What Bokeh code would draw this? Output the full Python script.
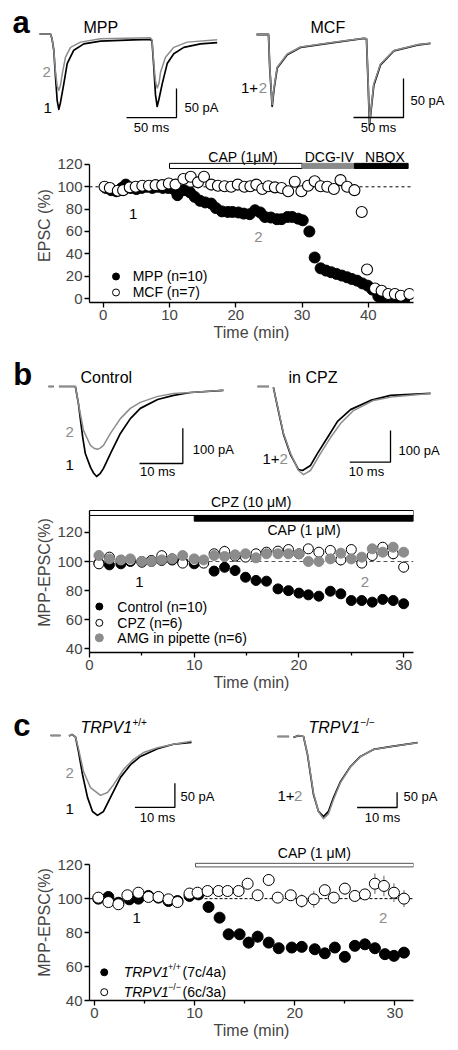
import numpy as np
from bokeh.plotting import figure
from bokeh.layouts import column, row
from bokeh.models import Range1d, Span, FixedTicker
from bokeh.core.properties import value
from bokeh.embed import file_html
from bokeh.resources import INLINE

FONT = "Liberation Sans"
BLACK = "#000000"
GRAY = "#8c8c8c"
NAN = np.nan

# ---------------- panel a : example traces (ms, pA) ----------------
A_MPP1_T = [0, 11, 12.5, 14.3, 16, 17.7, 19.3, 21, 24.3, 27.7, 34.3, 44.3, 61, 94, 111,
            112.5, 114.3, 116, 117.7, 119.5, 122.7, 127.7, 134.3, 144.3, 161, 177.7]
A_MPP1_I = [0, 0, -8, -28, -74, -115, -130, -118, -86, -51, -28, -17, -12.4, -10, -9.5,
            -12, -57, -105, -125, -112, -86, -51, -34, -23, -17, -15]
A_MPP2_T = [0, 11, 12.5, 14.3, 16, 17.7, 19.3, 21, 22.7, 26, 31, 41, 61, 111,
            112.5, 114.3, 116, 117.7, 119.5, 121, 126, 134.3, 147.7, 177.7]
A_MPP2_I = [0, 0, -8, -28, -65, -90, -97, -88, -69, -40, -23, -14, -8.3, -6.6,
            -10, -50, -82, -93, -85, -66, -40, -23, -14, -10]
A_MCFTR_T = [0, 12, 13.3, 15.7, 17.5, 20.7, 30.7, 44, 77, 107.3, 110, 111.7, 113, 115,
             117.3, 124, 137.3, 160.7, 174]
A_MCF1_I = [0, 0, -44, -92, -70, -43, -26, -16.5, -10.5, -5, -5.5, -65, -116, -92,
            -65, -39, -21, -13.5, -11.5]
A_MCF2_I = [0, 0, -42, -90, -68, -42, -25, -16, -10, -4.7, -5, -63, -114, -90,
            -63, -38, -20.5, -13.2, -11.1]

# ---------------- panel a : time course (min, %) ----------------
A_MPP_T = [0.4, 1.2, 2.0, 2.8, 3.4, 4.2, 5.0, 5.8, 6.6, 7.4, 8.2, 9.0, 9.8, 10.6, 11.2,
           12.2, 13.1, 13.8, 14.6, 15.4, 16.3, 17.0, 17.9, 18.8, 19.5, 20.4, 21.2, 22.1,
           22.9, 23.7, 24.4, 25.3, 26.2, 26.9, 27.8, 28.5, 29.4, 30.1, 31.1, 31.9, 32.8,
           33.6, 34.4, 35.2, 36.0, 36.8, 37.5, 38.3, 39.1, 39.9, 40.6, 41.5, 42.2, 43.0,
           43.8, 44.6, 45.4]
A_MPP_V = [99, 97, 96, 99, 102, 99, 98, 99, 100, 99, 100, 99, 99, 98, 92.5,
           97, 95, 91, 87.5, 86, 85, 81, 78, 77.5, 77.5, 77, 76, 75.5,
           79, 77, 73, 72.5, 71, 71, 73, 73, 71.5, 70, 60, 36.7, 27,
           25, 23.5, 22, 20.5, 19, 17.5, 16, 13.5, 11.5, 8, 2, 0, -1,
           -1, -1, -1]
A_MCF_T = [0.2, 1.0, 2.2, 3.0, 4.0, 4.9, 5.9, 6.9, 7.9, 8.9, 9.9, 10.9, 12.1, 13.2,
           14.3, 15.2, 16.3, 17.3, 18.3, 19.3, 20.3, 21.3, 22.2, 23.1, 24.0, 24.9, 25.9,
           26.9, 27.9, 28.9, 29.9, 30.9, 31.9, 32.8, 33.8, 34.8, 35.8, 36.8, 37.9, 39.0,
           39.8, 41.0, 42.0, 43.0, 44.0, 44.9, 46.2]
A_MCF_V = [100, 99, 96.5, 97, 99.5, 100, 101, 101, 101.5, 101.5, 103, 102, 107, 109,
           104, 109, 102, 101, 100.5, 100, 102, 100, 100.5, 102, 98, 100.5, 99.5,
           99, 96, 104.5, 96, 101, 105, 100.5, 100, 98, 106, 100, 97, 77.5,
           26, 9, 7, 4, 4, 2.5, 4]
A_MCF_E = [1, 1, 1, 1, 1, 1, 1, 1, 1, 1, 1, 1, 1.5, 1.5,
           1.5, 2, 1.5, 1.5, 1.5, 1.5, 1.5, 1.5, 1.5, 1.5, 1.5, 1.5, 1.5,
           1.5, 1.5, 2, 1.5, 1.5, 2, 1.5, 1.5, 1.5, 2, 1.5, 2, 3,
           3, 1.5, 1.5, 1, 1, 1, 1]
A_CAP = [10, 30]
A_DCG = [30, 37.9]
A_NBQX = [37.9, 46.0]
A_XTICKS = [0, 10, 20, 30, 40]
A_YTICKS = [0, 20, 40, 60, 80, 100, 120]

# ---------------- panel b : example traces (ms, pA) ----------------
B_CTL1_T = [0, 1.2, NAN, 2.4, 6.2, 6.9, 7.9, 8.5, 9.7, 10.4, 11.1, 11.9, 12.7, 14.3, 16.6,
            18.9, 21.2, 25.2, 28.9, 32.8, 40.4]
B_CTL1_I = [0, 0, NAN, 0, 0, -48, -144, -190, -229, -245, -255, -247, -232, -190, -133,
            -91, -62, -37, -25, -17, -11]
B_CTL2_T = [0, 1.2, NAN, 2.4, 6.2, 7.2, 8.1, 9.7, 10.5, 11.3, 12.0, 12.7, 14.3, 16.6,
            18.9, 21.2, 25.2, 28.9, 32.8, 40.4]
B_CTL2_I = [0, 0, NAN, 0, 0, -68, -125, -167, -175, -178, -174, -167, -133, -91,
            -62, -45, -28, -20, -17, -11]
B_CPZ1_T = [0, 2.8, NAN, 3.9, 5.16, 6.39, 8.11, 10.07, 11.06, 13.02, 14.74, 17.2, 19.66,
            22.85, 27.76, 32.68, 42.51]
B_CPZ1_I = [0, 0, NAN, -3, -79, -151, -215, -262, -265, -249, -211, -161, -110,
            -73, -44, -28, -22]
B_CPZ2_T = [0, 2.8, NAN, 3.9, 5.16, 6.39, 8.11, 10.07, 11.3, 13.02, 15.48, 17.94, 20.39,
            23.59, 28.5, 33.42, 42.51]
B_CPZ2_I = [0, 0, NAN, -3, -76, -148, -211, -265, -278, -265, -211, -161, -117,
            -76, -44, -32, -22]

# ---------------- panel b : time course ----------------
B_T = [0.9, 1.9, 3.0, 3.9, 5.0, 5.9, 6.9, 7.9, 8.9, 10.0, 10.9, 11.9, 12.9, 13.9, 14.9,
       15.9, 16.9, 18.0, 19.0, 20.0, 20.9, 21.9, 23.0, 24.0, 25.0, 26.0, 27.0, 28.0, 29.0, 30.0]
B_CTL = [98.9, 97.7, 98.4, 100, 99.5, 100, 100.7, 101, 100, 98.4, 99.5, 93.4, 96, 93.8, 89.2,
         87, 86.5, 81.2, 80, 78.3, 77.1, 76.2, 79.6, 77.8, 73.2, 73.2, 72.1, 74, 73.2, 71]
B_CTL_E = [1, 1, 1, 1, 1, 1, 1, 1, 1, 1, 1, 1.5, 1.5, 1.5, 1.5,
           1.5, 1.5, 1.5, 1.5, 1.5, 1.5, 1.5, 1.5, 1.5, 1.5, 1.5, 1.5, 1.5, 1.5, 1.5]
B_CPZ = [98.4, 103, 100.7, 100.7, 100, 100.7, 104, 101.8, 98.9, 100.7, 98.9, 105.3, 106.9,
         103.7, 103, 105.3, 106.4, 107.1, 108.2, 105.3, 108.7, 106.4, 107.6, 101.1, 108.2,
         98.9, 104.1, 109.8, 105.3, 96.1]
B_CPZ_E = [1.5, 2, 1.5, 1.5, 1.5, 1.5, 2, 2, 1.5, 2, 2, 2.5, 4, 2.5, 2.5,
           3, 3, 3, 3.5, 3, 3, 3, 3.5, 4, 3.5, 3, 3, 3.5, 4, 4]
B_AMG = [104.1, 101.8, 101.1, 101.8, 100, 100, 101.1, 101.8, 104.1, 101.8, 101.1, 104.1,
         103.4, 104.6, 105.3, 102.5, 105.3, 105.3, 105.3, 105.3, 100, 100, 101.8, 105.7,
         101.8, 103, 108.7, 106.4, 109.8, 106.4]
B_AMG_E = [1.5, 1.5, 1.5, 1.5, 1.5, 1.5, 1.5, 1.5, 1.5, 2, 2, 2, 2, 2, 2,
           2, 2, 2, 2.5, 2.5, 2.5, 2.5, 2.5, 3, 3, 3, 3, 3, 3, 3]
B_CPZ_BAR = [0, 30.94]
B_CAP_BAR = [10, 30.94]
B_XTICKS = [0, 10, 20, 30]
B_XMINOR = [5, 15, 25]
B_YTICKS = [40, 60, 80, 100, 120]

# ---------------- panel c : example traces (ms, pA) ----------------
C_WT1_T = [0, 2.5, NAN, 4.6, 5.4, 6.25, 7, 8, 9.25, 10.5, 11.75, 13.25, 15, 17.5, 20,
           22.5, 26.75, 30.75, 35.25]
C_WT1_I = [0, 0, NAN, -1, 2, -3, -33, -80, -127, -156, -164, -156, -127, -86, -60,
           -43, -27, -18, -14]
C_WT2_T = [0, 2.5, NAN, 4.6, 5.4, 6.25, 7, 8.25, 10, 12.5, 14.25, 15.75, 18.25, 20.75,
           23.25, 26.75, 30.75, 35.25]
C_WT2_I = [0, 0, NAN, -1, 2, -3, -27, -74, -107, -123, -117, -101, -70, -49,
           -35, -25, -18, -12]
C_KO_T = [0, 2.9, NAN, 4, 5.25, 6.5, 7.5, 8.25, 9, 10.25, 11.5, 12.75, 14, 15.75, 18.25,
          20.75, 24, 28.25, 35]
C_KO1_I = [0, 0, NAN, -3, 3, 0, -59, -124, -189, -244, -261, -244, -199, -147, -98,
           -65, -42, -33, -20]
C_KO2_I = [0, 0, NAN, -3, 3, 0, -57, -120, -185, -245, -268, -252, -205, -150, -99,
           -66, -42, -33, -20]

# ---------------- panel c : time course ----------------
C_WT_T = [0.4, 1.4, 2.4, 3.5, 4.4, 5.4, 6.4, 7.4, 8.3, 9.5, 10.4, 11.4, 12.5, 13.4, 14.5,
          15.4, 16.3, 17.4, 18.4, 19.7, 20.7, 22.0, 23.0, 24.0, 25.0, 26.0, 27.0, 28.0,
          29.0, 29.9, 30.9]
C_WT_V = [100, 101, 97.6, 99.6, 100, 101.6, 100.6, 98.6, 98.6, 101.6, 102.5, 95.1, 88.8,
          79, 79, 74.1, 77.6, 74.1, 70.8, 71.2, 71.6, 70.2, 67.8, 71.2, 65.7, 72.2, 73.1,
          70.8, 67.3, 66.3, 68.2]
C_WT_E = [1, 1, 1, 1, 1, 1, 1, 1, 1, 1, 1, 2, 2.5, 3, 3, 3.5, 3.5, 3, 3, 3, 3, 3, 2.5,
          3, 2.5, 3, 3, 3, 3, 3, 3]
C_KO_TT = [0.4, 1.4, 2.4, 3.3, 4.4, 5.4, 6.4, 7.4, 8.3, 9.5, 10.3, 11.3, 12.4, 13.3, 14.4,
           15.3, 16.3, 17.4, 18.3, 19.6, 20.7, 21.9, 23.0, 23.9, 25.0, 26.0, 27.0, 28.0,
           28.9, 29.9, 30.9]
C_KO_V = [100.6, 98, 96.7, 102, 103.5, 101, 101, 99.6, 98, 103, 103.5, 104.5, 104.5,
          104.5, 104.5, 108.8, 102, 111, 100.6, 102, 98.6, 99.6, 105, 100.6, 105.9, 101.6,
          102.5, 108.8, 107.5, 103.5, 100]
C_KO_E = [1.5, 2.5, 2, 1.5, 1.5, 1.5, 1.5, 1.5, 2.5, 1.5, 1.5, 2, 2, 2, 2, 2.5, 3, 3.5,
          2.5, 3, 4, 5, 3, 3, 3.5, 2.5, 2.5, 6, 6, 5.5, 5]
C_CAP_BAR = [10.1, 31.85]
C_XTICKS = [0, 10, 20, 30]
C_XMINOR = [5, 15, 25]
C_YTICKS = [40, 60, 80, 100, 120]


# ---------------- helpers ----------------
def trace_fig(w, h, xr, yr):
    p = figure(width=w, height=h, x_range=Range1d(*xr), y_range=Range1d(*yr),
               x_axis_type=None, y_axis_type=None, output_backend="svg",
               toolbar_location=None, min_border=0)
    p.outline_line_color = None
    return p


def txt(p, x, y, s, size, color=BLACK, align="left", baseline="middle", style="normal"):
    p.text(x=[x], y=[y], text=[s], text_font=value(FONT), text_font_size=value(f"{size}px"),
           text_color=color, text_align=align, text_baseline=baseline,
           text_font_style=style)


def tline(p, t, v, color, width):
    p.line(np.array(t, dtype=float), np.array(v, dtype=float), line_color=color,
           line_width=width, line_join="round")


def scalebar(p, x_right, y_bottom, dx, dy):
    p.line([x_right - dx, x_right, x_right], [y_bottom, y_bottom, y_bottom + dy],
           line_color=BLACK, line_width=1.3)


def scatter_fig(w, h, xr, yr, left, right, top, bottom, xticks, xminor, yticks,
                ylabel, ybounds):
    p = figure(width=w, height=h, x_range=Range1d(*xr), y_range=Range1d(*yr),
               output_backend="svg", toolbar_location=None,
               min_border_left=left, min_border_right=right,
               min_border_top=top, min_border_bottom=bottom)
    p.outline_line_color = None
    p.xgrid.visible = False
    p.ygrid.visible = False
    p.xaxis.ticker = FixedTicker(ticks=xticks, minor_ticks=xminor)
    p.yaxis.ticker = FixedTicker(ticks=yticks, minor_ticks=[])
    p.yaxis.bounds = ybounds
    p.xaxis.axis_label = "Time (min)"
    p.yaxis.axis_label = ylabel
    for ax in (p.xaxis[0], p.yaxis[0]):
        ax.axis_line_width = 1.3
        ax.major_tick_line_width = 1.3
        ax.minor_tick_line_width = 1.3
        ax.major_tick_out = 5
        ax.major_tick_in = 0
        ax.minor_tick_out = 3
        ax.minor_tick_in = 0
        ax.major_label_text_font = FONT
        ax.major_label_text_font_size = "15px"
        ax.major_label_standoff = 2
        ax.axis_label_text_font = FONT
        ax.axis_label_text_font_size = "16px"
        ax.axis_label_text_font_style = "normal"
        ax.axis_label_standoff = 1
    return p


def errbars(p, t, v, e, color="#666666"):
    v = np.array(v, dtype=float)
    e = np.array(e, dtype=float)
    p.segment(x0=t, y0=v - e, x1=t, y1=v + e, line_color=color, line_width=1)


def dashed(p, color, dash):
    s = Span(location=100, dimension="width", line_color=color, line_width=1,
             line_dash=dash, level="underlay")
    p.add_layout(s)


# ================= panel a =================
a1 = trace_fig(232, 140, (-31, 201), (-183.6, 57.76))
txt(a1, -27, 19.3, "a", 31, style="bold")
txt(a1, 44, 11.2, "MPP", 16)
tline(a1, A_MPP1_T, A_MPP1_I, BLACK, 1.7)
tline(a1, A_MPP2_T, A_MPP2_I, GRAY, 1.5)
txt(a1, 3, -64.7, "2", 15, color=GRAY)
txt(a1, 4, -128.4, "1", 15)
scalebar(a1, 137, -144, 50, 50)
txt(a1, 145, -126.7, "50 pA", 13)
txt(a1, 112, -161, "50 ms", 13, align="center")

a2 = trace_fig(210, 140, (-16, 194), (-135.9, 43.56))
txt(a2, 54, 9, "MCF", 16)
tline(a2, A_MCFTR_T, A_MCF1_I, BLACK, 1.8)
tline(a2, A_MCFTR_T, A_MCF2_I, GRAY, 1.5)
txt(a2, -15.5, -69.2, "1+", 15)
txt(a2, 2.3, -69.2, "2", 15, color=GRAY)
scalebar(a2, 147, -106.4, 50, 50)
txt(a2, 154, -84.6, "50 pA", 13)
txt(a2, 122, -119.2, "50 ms", 13, align="center")

a3 = scatter_fig(442, 205, (-2.07, 46.81), (-3.58, 134.3), 75, 37, 8, 43,
                 A_XTICKS, [], A_YTICKS, "EPSC (%)", (-3.58, 120))
dashed(a3, BLACK, "3 3")
a3.quad(left=[A_CAP[0]], right=[A_CAP[1]], bottom=[116.4], top=[121],
        fill_color="white", line_color=BLACK, line_width=1)
a3.quad(left=[A_DCG[0]], right=[A_DCG[1]], bottom=[116.4], top=[121],
        fill_color="#8a8a8a", line_color="#8a8a8a", line_width=1)
a3.quad(left=[A_NBQX[0]], right=[A_NBQX[1]], bottom=[116.4], top=[121],
        fill_color=BLACK, line_color=BLACK, line_width=1)
txt(a3, 21.1, 126.3, "CAP (1\u03bcM)", 14, align="center")
txt(a3, 34.1, 126.3, "DCG-IV", 14, align="center")
txt(a3, 42.5, 126.3, "NBQX", 14, align="center")
a3.scatter(A_MPP_T, A_MPP_V, marker="circle", size=11, fill_color=BLACK,
           line_color=BLACK, line_width=1)
errbars(a3, A_MCF_T, A_MCF_V, A_MCF_E)
a3.scatter(A_MCF_T, A_MCF_V, marker="circle", size=11, fill_color="white",
           line_color=BLACK, line_width=1.1)
txt(a3, 3.9, 75.7, "1", 15)
txt(a3, 22.8, 55.1, "2", 15, color=GRAY)
a3.scatter([1.93], [19.7], marker="circle", size=7, fill_color=BLACK, line_color=BLACK)
a3.scatter([1.93], [5.4], marker="circle", size=7, fill_color="white", line_color=BLACK)
txt(a3, 4.44, 19.7, "MPP (n=10)", 14)
txt(a3, 4.44, 5.4, "MCF (n=7)", 14)

# ================= panel b =================
b1 = trace_fig(232, 145, (-9.24, 44.34), (-294.6, 116.1))
txt(b1, -8.16, 33.1, "b", 31, style="bold")
txt(b1, 7.39, 25.5, "Control", 16)
tline(b1, B_CTL1_T, B_CTL1_I, BLACK, 1.7)
tline(b1, B_CTL2_T, B_CTL2_I, GRAY, 1.5)
txt(b1, 3.93, -130.3, "2", 15, color=GRAY)
txt(b1, 3.93, -221, "1", 15)
scalebar(b1, 31.02, -218.1, 10, 100)
txt(b1, 33.3, -178.5, "100 pA", 13)
txt(b1, 25.2, -240.8, "10 ms", 13, align="center")

b2 = trace_fig(210, 145, (-4.18, 47.42), (-328.1, 129.3))
txt(b2, 7.62, 28.4, "in CPZ", 16)
tline(b2, B_CPZ1_T, B_CPZ1_I, BLACK, 1.7)
tline(b2, B_CPZ2_T, B_CPZ2_I, GRAY, 1.5)
txt(b2, 1.23, -230.3, "1+", 15)
txt(b2, 5.4, -230.3, "2", 15, color=GRAY)
scalebar(b2, 32.68, -238.8, 10, 100)
txt(b2, 34.64, -201.9, "100 pA", 13)
txt(b2, 26.78, -268.1, "10 ms", 13, align="center")

b3 = scatter_fig(442, 204, (0, 30.94), (37.54, 147.36), 80, 32, 2, 42,
                 B_XTICKS, B_XMINOR, B_YTICKS, "MPP-EPSC(%)", (37.54, 135))
dashed(b3, "#555555", "4 3")
b3.quad(left=[B_CPZ_BAR[0]], right=[B_CPZ_BAR[1]], bottom=[131.6], top=[135],
        fill_color="white", line_color=BLACK, line_width=1)
b3.quad(left=[B_CAP_BAR[0]], right=[B_CAP_BAR[1]], bottom=[127.7], top=[131.6],
        fill_color=BLACK, line_color=BLACK, line_width=1)
txt(b3, 15.44, 140.5, "CPZ (10 \u03bcM)", 14, align="center")
txt(b3, 20.5, 121.3, "CAP (1 \u03bcM)", 14, align="center")
errbars(b3, B_T, B_CTL, B_CTL_E)
errbars(b3, B_T, B_CPZ, B_CPZ_E)
errbars(b3, B_T, B_AMG, B_AMG_E, color="#999999")
b3.scatter(B_T, B_CTL, marker="circle", size=10, fill_color=BLACK, line_color=BLACK)
b3.scatter(B_T, B_CPZ, marker="circle", size=10, fill_color="white", line_color=BLACK,
           line_width=1)
b3.scatter(B_T, B_AMG, marker="circle", size=10, fill_color=GRAY, line_color=GRAY)
txt(b3, 4.38, 85.6, "1", 15)
txt(b3, 25.9, 85.6, "2", 15, color=GRAY)
b3.scatter([0.94], [69.1], marker="circle", size=7, fill_color=BLACK, line_color=BLACK)
b3.scatter([0.94], [57.9], marker="circle", size=7, fill_color="white", line_color=BLACK)
b3.scatter([0.94], [47.6], marker="circle", size=8, fill_color=GRAY, line_color=GRAY)
txt(b3, 2.66, 69.1, "Control (n=10)", 14)
txt(b3, 2.66, 57.9, "CPZ (n=6)", 14)
txt(b3, 2.66, 47.6, "AMG in pipette (n=6)", 14)

# ================= panel c =================
c1 = trace_fig(232, 140, (-10.5, 47.5), (-203.3, 84.2))
txt(c1, -9.3, 19.9, "c", 31, style="bold")
txt(c1, 7.5, 16.4, "TRPV1", 16, style="italic")
txt(c1, 20.5, 26.7, "+/+", 10)
tline(c1, C_WT1_T, C_WT1_I, BLACK, 1.7)
tline(c1, C_WT2_T, C_WT2_I, GRAY, 1.5)
txt(c1, 3.75, -78, "2", 15, color=GRAY)
txt(c1, 3.75, -150, "1", 15)
scalebar(c1, 31.1, -147.8, 10, 50)
txt(c1, 32.5, -125.3, "50 pA", 13)
txt(c1, 26.75, -168.4, "10 ms", 13, align="center")

c2 = trace_fig(210, 140, (-9.25, 43.25), (-319.2, 136.8))
txt(c2, 7.75, 29.3, "TRPV1", 16, style="italic")
txt(c2, 20.75, 45.6, "\u2212/\u2212", 10)
tline(c2, C_KO_T, C_KO1_I, BLACK, 1.7)
tline(c2, C_KO_T, C_KO2_I, GRAY, 1.5)
txt(c2, 0, -192.2, "1+", 15)
txt(c2, 4.1, -192.2, "2", 15, color=GRAY)
scalebar(c2, 29.9, -231.3, 10, 50)
txt(c2, 31.5, -195.4, "50 pA", 13)
txt(c2, 26.25, -263.8, "10 ms", 13, align="center")

c3 = scatter_fig(442, 208, (-0.48, 31.85), (40, 131.9), 81, 27, 10, 42,
                 C_XTICKS, C_XMINOR, C_YTICKS, "MPP-EPSC(%)", (40, 120))
dashed(c3, BLACK, "3 2")
c3.quad(left=[C_CAP_BAR[0]], right=[C_CAP_BAR[1]], bottom=[118.7], top=[120.8],
        fill_color="white", line_color="#555555", line_width=1)
txt(c3, 21.97, 126.6, "CAP (1 \u03bcM)", 14, align="center")
errbars(c3, C_WT_T, C_WT_V, C_WT_E)
errbars(c3, C_KO_TT, C_KO_V, C_KO_E)
c3.scatter(C_WT_T, C_WT_V, marker="circle", size=11, fill_color=BLACK, line_color=BLACK)
c3.scatter(C_KO_TT, C_KO_V, marker="circle", size=11, fill_color="white", line_color=BLACK,
           line_width=1)
txt(c3, 3.8, 88.4, "1", 15)
txt(c3, 28.4, 88.4, "2", 15, color=GRAY)
c3.scatter([0.99], [56.6], marker="circle", size=7, fill_color=BLACK, line_color=BLACK)
c3.scatter([0.99], [44.9], marker="circle", size=7, fill_color="white", line_color=BLACK)
txt(c3, 2.93, 56.6, "TRPV1", 14, style="italic")
txt(c3, 7.36, 59.6, "+/+", 9)
txt(c3, 8.8, 56.6, "(7c/4a)", 14)
txt(c3, 2.93, 44.9, "TRPV1", 14, style="italic")
txt(c3, 7.36, 47.8, "\u2212/\u2212", 9)
txt(c3, 8.8, 44.9, "(6c/3a)", 14)

layout = column(row(a1, a2), a3, row(b1, b2), b3, row(c1, c2), c3,
                margin=(0, 0, 0, 8))
open("out.html", "w").write(file_html(layout, INLINE, title="EPSC figure"))
